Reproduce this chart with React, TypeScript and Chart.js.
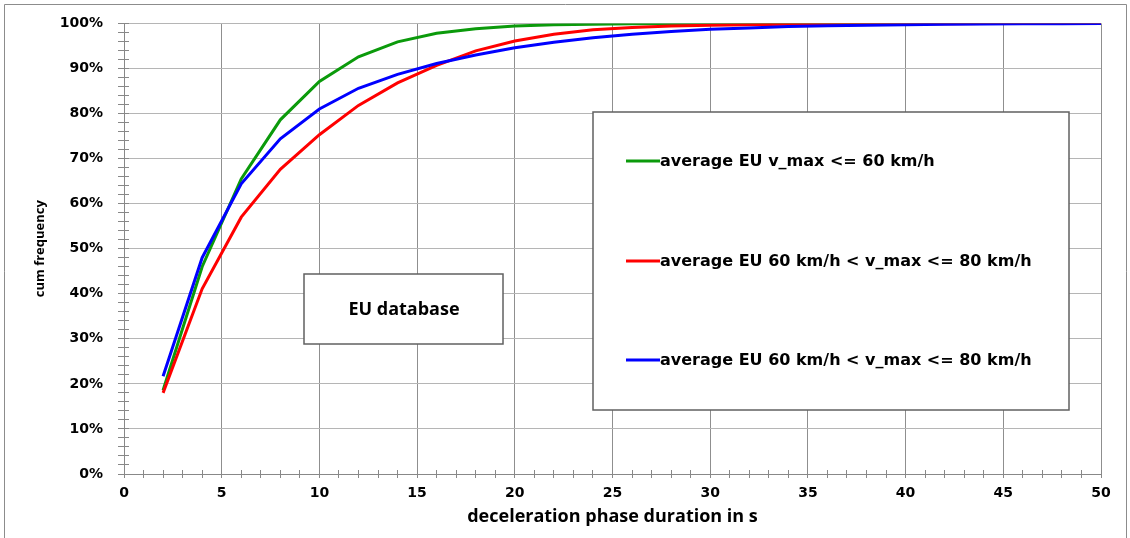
import React, { useEffect, useRef } from 'react';
import { Chart, registerables } from 'chart.js';

Chart.register(...registerables);

// ---- data ----
const durations = [2, 4, 6, 8, 10, 12, 14, 16, 18, 20, 22, 24, 26, 28, 30, 32, 34, 36, 38, 40, 42, 44, 46, 48, 50];
const greenValues = [18.6, 46.0, 65.5, 78.6, 87.1, 92.6, 95.9, 97.8, 98.8, 99.4, 99.7, 99.8, 99.9, 99.95, 100, 100, 100, 100, 100, 100, 100, 100, 100, 100, 100];
const redValues = [18.0, 41.1, 57.0, 67.6, 75.3, 81.8, 86.8, 90.7, 93.9, 96.1, 97.6, 98.6, 99.1, 99.4, 99.6, 99.7, 99.8, 99.85, 99.9, 99.93, 99.95, 99.97, 99.98, 99.99, 100];
const blueValues = [21.7, 48.0, 64.4, 74.4, 81.0, 85.6, 88.7, 91.1, 93.0, 94.6, 95.8, 96.8, 97.6, 98.2, 98.7, 99.0, 99.3, 99.5, 99.6, 99.7, 99.8, 99.85, 99.9, 99.95, 100];
const seriesLabels = [
  'average EU v_max <= 60 km/h',
  'average EU 60 km/h < v_max <= 80 km/h',
  'average EU 60 km/h < v_max <= 80 km/h',
];
const seriesColors = ['#0b9a0b', '#ff0000', '#0000ff'];
const xMajorStep = 5;
const yMajorStep = 10;
const xAxisTitle = 'deceleration phase duration in s';
const yAxisTitle = 'cum frequency';
const noteText = 'EU database';

const W = 1130;
const H = 538;

function toPoints(vals: number[]) {
  return durations.map((x, i) => ({ x, y: vals[i] }));
}

const align = (p: number) => Math.round(p - 0.5) + 0.5;

const decorPlugin = {
  id: 'decor',
  beforeDraw(chart: any) {
    const ctx = chart.ctx;
    ctx.save();
    ctx.fillStyle = '#ffffff';
    ctx.fillRect(0, 0, chart.width, chart.height);
    ctx.strokeStyle = '#8c8c8c';
    ctx.lineWidth = 1;
    ctx.beginPath();
    ctx.moveTo(4.5, chart.height + 2);
    ctx.lineTo(4.5, 4.5);
    ctx.lineTo(1126.5, 4.5);
    ctx.lineTo(1126.5, chart.height + 2);
    ctx.stroke();
    ctx.restore();
  },
  afterDatasetsDraw(chart: any) {
    const ctx = chart.ctx;
    const xs = chart.scales.x;
    const ys = chart.scales.y;
    const area = chart.chartArea;
    ctx.save();
    // inner halves of the tick marks (ticks cross the axis)
    ctx.strokeStyle = '#888888';
    ctx.lineWidth = 1;
    ctx.beginPath();
    ys.ticks.forEach((t: any) => {
      const py = align(ys.getPixelForValue(t.value));
      ctx.moveTo(area.left, py);
      ctx.lineTo(area.left + 5, py);
    });
    xs.ticks.forEach((t: any) => {
      const px = align(xs.getPixelForValue(t.value));
      ctx.moveTo(px, area.bottom);
      ctx.lineTo(px, area.bottom - 4);
    });
    ctx.stroke();

    // "EU database" box
    ctx.fillStyle = '#ffffff';
    ctx.strokeStyle = '#606060';
    ctx.lineWidth = 1.5;
    ctx.fillRect(304, 274, 199, 70);
    ctx.strokeRect(304, 274, 199, 70);
    ctx.fillStyle = '#000000';
    ctx.font = 'bold 18px "Open Sans"';
    ctx.textAlign = 'center';
    ctx.textBaseline = 'middle';
    ctx.fillText(noteText, 404, 310);

    // legend box
    ctx.fillStyle = '#ffffff';
    ctx.strokeStyle = '#606060';
    ctx.lineWidth = 1.5;
    ctx.fillRect(593, 112, 476, 298);
    ctx.strokeRect(593, 112, 476, 298);
    const rows = [161, 261, 360];
    chart.data.datasets.forEach((ds: any, i: number) => {
      const y = rows[i];
      ctx.strokeStyle = ds.borderColor;
      ctx.lineWidth = 3;
      ctx.beginPath();
      ctx.moveTo(626, y);
      ctx.lineTo(660, y);
      ctx.stroke();
      ctx.fillStyle = '#000000';
      ctx.font = 'bold 16px "DejaVu Sans"';
      ctx.textAlign = 'left';
      ctx.textBaseline = 'middle';
      ctx.fillText(ds.label, 660, y + 1);
    });
    ctx.restore();
  },
};

export default function App() {
  const canvasRef = useRef<HTMLCanvasElement | null>(null);

  useEffect(() => {
    document.body.style.margin = '0';
    const canvas = canvasRef.current;
    if (!canvas) return;
    const tickFont = { family: '"DejaVu Sans"', size: 14, weight: 'bold' as const };
    const chart = new Chart(canvas, {
      type: 'line',
      data: {
        datasets: [
          { label: seriesLabels[0], data: toPoints(greenValues), borderColor: seriesColors[0], backgroundColor: seriesColors[0], borderWidth: 3, pointRadius: 0, tension: 0, order: 3 },
          { label: seriesLabels[1], data: toPoints(redValues), borderColor: seriesColors[1], backgroundColor: seriesColors[1], borderWidth: 3, pointRadius: 0, tension: 0, order: 2 },
          { label: seriesLabels[2], data: toPoints(blueValues), borderColor: seriesColors[2], backgroundColor: seriesColors[2], borderWidth: 3, pointRadius: 0, tension: 0, order: 1 },
        ],
      },
      options: {
        responsive: false,
        animation: false,
        devicePixelRatio: 1,
        layout: { padding: { left: 0, top: 19, right: 29, bottom: 0 } },
        plugins: {
          legend: { display: false },
          tooltip: { enabled: false },
          title: { display: false },
        },
        scales: {
          x: {
            type: 'linear',
            min: 0,
            max: 50,
            afterFit: (s: any) => { s.height = 64; },
            ticks: {
              stepSize: 1,
              maxTicksLimit: 1000,
              autoSkip: false,
              maxRotation: 0,
              minRotation: 0,
              padding: 7,
              color: '#000000',
              font: tickFont,
              callback: (v: any) => (Math.round(v) % xMajorStep === 0 ? String(Math.round(v)) : ''),
            },
            grid: {
              color: (c: any) => (c.tick && Math.round(c.tick.value) % xMajorStep === 0 ? '#8f8f8f' : 'rgba(0,0,0,0)'),
              tickColor: '#888888',
              tickLength: 4,
              lineWidth: 1,
            },
            border: { color: '#888888', width: 1 },
            title: {
              display: true,
              text: xAxisTitle,
              color: '#000000',
              font: { family: '"Open Sans"', size: 18, weight: 'bold' },
              padding: { top: 0, bottom: 10 },
            },
          },
          y: {
            type: 'linear',
            min: 0,
            max: 100,
            afterFit: (s: any) => { s.width = 124; },
            ticks: {
              stepSize: 2,
              maxTicksLimit: 1000,
              autoSkip: false,
              padding: 15,
              color: '#000000',
              font: tickFont,
              callback: (v: any) => (Math.round(v) % yMajorStep === 0 ? Math.round(v) + '%' : ''),
            },
            grid: {
              color: (c: any) => (c.tick && Math.round(c.tick.value) % yMajorStep === 0 ? '#b5b5b5' : 'rgba(0,0,0,0)'),
              tickColor: '#888888',
              tickLength: 6,
              lineWidth: 1,
            },
            border: { color: '#888888', width: 1 },
            title: {
              display: true,
              text: yAxisTitle,
              color: '#000000',
              font: { family: '"Open Sans"', size: 13, weight: 'bold' },
              padding: { top: 32, bottom: 0 },
            },
          },
        },
      },
      plugins: [decorPlugin],
    });
    return () => chart.destroy();
  }, []);

  return (
    <div style={{ width: W, height: H }}>
      <canvas ref={canvasRef} width={W} height={H} style={{ display: 'block', width: W, height: H }} />
    </div>
  );
}
